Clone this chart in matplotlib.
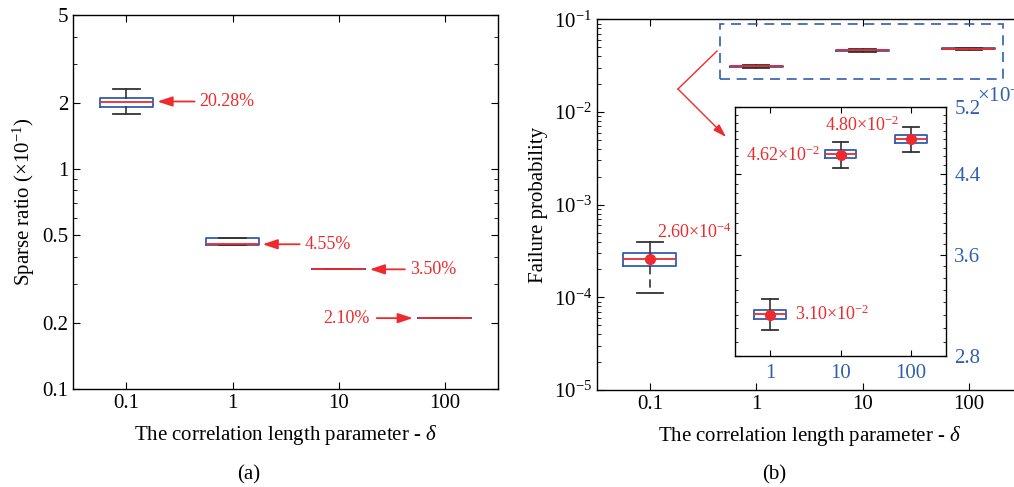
import matplotlib
matplotlib.use('Agg')
import matplotlib.pyplot as plt
from matplotlib.ticker import FixedLocator, NullFormatter, LogLocator, LogFormatterMathtext, FixedFormatter
from matplotlib.patches import Rectangle

plt.rcParams['font.family'] = ['Liberation Serif', 'DejaVu Serif']
plt.rcParams['mathtext.fontset'] = 'custom'
plt.rcParams['mathtext.rm'] = 'Liberation Serif'
plt.rcParams['mathtext.it'] = 'Liberation Serif:italic'
plt.rcParams['mathtext.bf'] = 'Liberation Serif:bold'
plt.rcParams['axes.linewidth'] = 1.0

# ---------------- data ----------------
delta_labels = ['0.1', '1', '10', '100']
delta_log = [-1, 0, 1, 2]          # log10 of delta

# (a) sparse ratio, in units of 10^-1
sr_med = [2.028, 0.455, 0.350, 0.210]
sr_q1 = [1.918, 0.452, 0.350, 0.210]
sr_q3 = [2.093, 0.488, 0.350, 0.210]
sr_lo = [1.781, 0.452, 0.350, 0.210]
sr_hi = [2.316, 0.488, 0.350, 0.210]
sr_text = ['20.28%', '4.55%', '3.50%', '2.10%']

# (b) failure probability
fp_med = [2.62e-4, 3.106e-2, 4.626e-2, 4.805e-2]
fp_q1 = [2.20e-4, 3.068e-2, 4.580e-2, 4.761e-2]
fp_q3 = [2.99e-4, 3.138e-2, 4.676e-2, 4.856e-2]
fp_lo = [1.11e-4, 2.985e-2, 4.467e-2, 4.652e-2]
fp_hi = [3.93e-4, 3.225e-2, 4.765e-2, 4.946e-2]
fp_mean = [2.60e-4, 3.10e-2, 4.62e-2, 4.80e-2]
fp_text = [r'2.60$\times$10$^{-4}$', r'3.10$\times$10$^{-2}$',
           r'4.62$\times$10$^{-2}$', r'4.80$\times$10$^{-2}$']

inset_ticks = [2.8, 3.6, 4.4, 5.2]

BLUE = '#2f5fb0'
RED = '#ee2a2e'
DARK = '#333333'

FS_TICK = 15
FS_LABEL = 15
FS_ANN = 13

def stats(med, q1, q3, lo, hi, mean=None, scale=1.0):
    out = []
    for i in range(len(med)):
        d = dict(med=med[i] * scale, q1=q1[i] * scale, q3=q3[i] * scale,
                 whislo=lo[i] * scale, whishi=hi[i] * scale, fliers=[])
        if mean is not None:
            d['mean'] = mean[i] * scale
        out.append(d)
    return out

box_kw = dict(boxprops=dict(color=BLUE, lw=1.3),
              medianprops=dict(color=RED, lw=1.3),
              whiskerprops=dict(color=DARK, lw=1.2),
              capprops=dict(color=DARK, lw=1.3),
              patch_artist=False, manage_ticks=False)

fig = plt.figure(figsize=(10.14, 4.87), dpi=100)

# ---------------- (a) ----------------
axA = fig.add_axes([73.3 / 1014, 1 - 389 / 487, (498 - 73.3) / 1014, (389 - 15.3) / 487])
axA.set_yscale('log')
axA.bxp(stats(sr_med, sr_q1, sr_q3, sr_lo, sr_hi), positions=delta_log,
        widths=0.5, **box_kw)
axA.set_xlim(-1.5, 2.5)
axA.set_ylim(0.1, 5)
axA.xaxis.set_major_locator(FixedLocator(delta_log))
axA.xaxis.set_major_formatter(FixedFormatter(delta_labels))
axA.yaxis.set_major_locator(FixedLocator([0.1, 0.2, 0.5, 1, 2, 5]))
axA.yaxis.set_major_formatter(FixedFormatter(['0.1', '0.2', '0.5', '1', '2', '5']))
axA.yaxis.set_minor_locator(FixedLocator([0.3, 0.4, 0.6, 0.7, 0.8, 0.9, 3, 4]))
axA.yaxis.set_minor_formatter(NullFormatter())
axA.tick_params(which='both', direction='in', top=True, right=True, labelsize=FS_TICK)
axA.tick_params(which='major', length=5)
axA.tick_params(which='minor', length=3)
axA.set_ylabel(r'Sparse ratio ($\times$10$^{-1}$)', fontsize=FS_LABEL, labelpad=4)
axA.set_xlabel(r'The correlation length parameter - $\delta$', fontsize=FS_LABEL, labelpad=7)

arrow_kw = dict(arrowstyle='-|>,head_length=0.9,head_width=0.3', color=RED, lw=1.3,
                shrinkA=0, shrinkB=0)
# arrows and labels
axA.annotate('', xy=(-0.708, sr_med[0]), xytext=(-0.358, sr_med[0]), arrowprops=arrow_kw)
axA.text(-0.311, sr_med[0], sr_text[0], color=RED, fontsize=FS_ANN, va='center', ha='left')
axA.annotate('', xy=(0.283, sr_med[1]), xytext=(0.632, sr_med[1]), arrowprops=arrow_kw)
axA.text(0.679, sr_med[1], sr_text[1], color=RED, fontsize=FS_ANN, va='center', ha='left')
axA.annotate('', xy=(1.292, sr_med[2]), xytext=(1.623, sr_med[2]), arrowprops=arrow_kw)
axA.text(1.670, sr_med[2], sr_text[2], color=RED, fontsize=FS_ANN, va='center', ha='left')
axA.annotate('', xy=(1.698, sr_med[3]), xytext=(1.358, sr_med[3]), arrowprops=arrow_kw)
axA.text(1.292, sr_med[3], sr_text[3], color=RED, fontsize=FS_ANN, va='center', ha='right')

fig.text(249 / 1014, 1 - 475 / 487, '(a)', fontsize=FS_LABEL, ha='center', va='center')

# ---------------- (b) ----------------
axB = fig.add_axes([596.7 / 1014, 1 - 390 / 487, (1022 - 596.7) / 1014, (390 - 19.3) / 487])
axB.set_yscale('log')
mean_kw = dict(marker='o', markerfacecolor=RED, markeredgecolor=RED, markersize=7)
resB = axB.bxp(stats(fp_med, fp_q1, fp_q3, fp_lo, fp_hi, fp_mean)[:1], positions=delta_log[:1],
               widths=0.5, showmeans=True, meanprops=mean_kw, **box_kw)
resB['whiskers'][0].set_linestyle((0, (5, 3)))
axB.bxp(stats(fp_med, fp_q1, fp_q3, fp_lo, fp_hi)[1:], positions=delta_log[1:],
        widths=0.5, **box_kw)
axB.set_xlim(-1.5, 2.5)
axB.set_ylim(1e-5, 1e-1)
axB.xaxis.set_major_locator(FixedLocator(delta_log))
axB.xaxis.set_major_formatter(FixedFormatter(delta_labels))
axB.yaxis.set_major_locator(LogLocator(base=10, numticks=10))
axB.yaxis.set_major_formatter(LogFormatterMathtext())
axB.yaxis.set_minor_locator(LogLocator(base=10, subs=range(2, 10), numticks=20))
axB.yaxis.set_minor_formatter(NullFormatter())
axB.tick_params(which='both', direction='in', top=True, right=True, labelsize=FS_TICK)
axB.tick_params(which='major', length=5)
axB.tick_params(which='minor', length=3)
axB.set_ylabel('Failure probability', fontsize=FS_LABEL, labelpad=4)
axB.set_xlabel(r'The correlation length parameter - $\delta$', fontsize=FS_LABEL, labelpad=7)

axB.text(-0.934, 5.0e-4, fp_text[0], color=RED, fontsize=FS_ANN, ha='left', va='center')

# dashed zoom rectangle
axB.add_patch(Rectangle((-0.342, 0.0227), 2.324 + 0.342, 0.0897 - 0.0227,
                        fill=False, edgecolor=BLUE, lw=1.2, ls=(0, (6, 4)), zorder=5))
axB.plot([-0.368, -0.736], [0.0455, 0.0177], color=RED, lw=1.0)
axB.annotate('', xy=(-0.283, 0.00537), xytext=(-0.736, 0.0177),
             arrowprops=dict(arrowstyle='-|>,head_length=0.8,head_width=0.25',
                             color=RED, lw=1.0, shrinkA=0, shrinkB=0))

fig.text(774 / 1014, 1 - 475 / 487, '(b)', fontsize=FS_LABEL, ha='center', va='center')

# ---------------- inset ----------------
axI = fig.add_axes([735 / 1014, 1 - 355.7 / 487, 211 / 1014, 248.4 / 487])
axI.set_yscale('log')
axI.bxp(stats(fp_med, fp_q1, fp_q3, fp_lo, fp_hi, fp_mean, scale=100)[1:],
        positions=[0, 1, 2], widths=0.45, showmeans=True, meanprops=mean_kw, **box_kw)
axI.set_xlim(-0.5, 2.5)
axI.set_ylim(2.8, 5.2)
axI.xaxis.set_major_locator(FixedLocator([0, 1, 2]))
axI.xaxis.set_major_formatter(FixedFormatter(delta_labels[1:]))
axI.yaxis.set_major_locator(FixedLocator(inset_ticks))
axI.yaxis.set_major_formatter(FixedFormatter([f'{t:.1f}' for t in inset_ticks]))
axI.yaxis.set_minor_locator(FixedLocator([2.8 + 0.1 * k for k in range(25)]))
axI.yaxis.set_minor_formatter(NullFormatter())
axI.tick_params(which='both', direction='in', top=True, right=True, left=True,
                labelleft=False, labelright=True, labelsize=FS_TICK, labelcolor=BLUE)
axI.tick_params(which='major', length=4, pad=6)
axI.tick_params(which='minor', length=2.5)
axI.tick_params(axis='x', which='minor', bottom=False, top=False)
axI.text(1.145, 1.045, r'$\times$10$^{-2}$', transform=axI.transAxes, color=BLUE,
         fontsize=FS_TICK, ha='left', va='center')

axI.text(0.775, 4.977, fp_text[3], color=RED, fontsize=FS_ANN, ha='left', va='center')
axI.text(0.714, 4.617, fp_text[2], color=RED, fontsize=FS_ANN, ha='right', va='center')
axI.text(0.352, 3.106, fp_text[1], color=RED, fontsize=FS_ANN, ha='left', va='center')

fig.savefig('out.png', dpi=100)
